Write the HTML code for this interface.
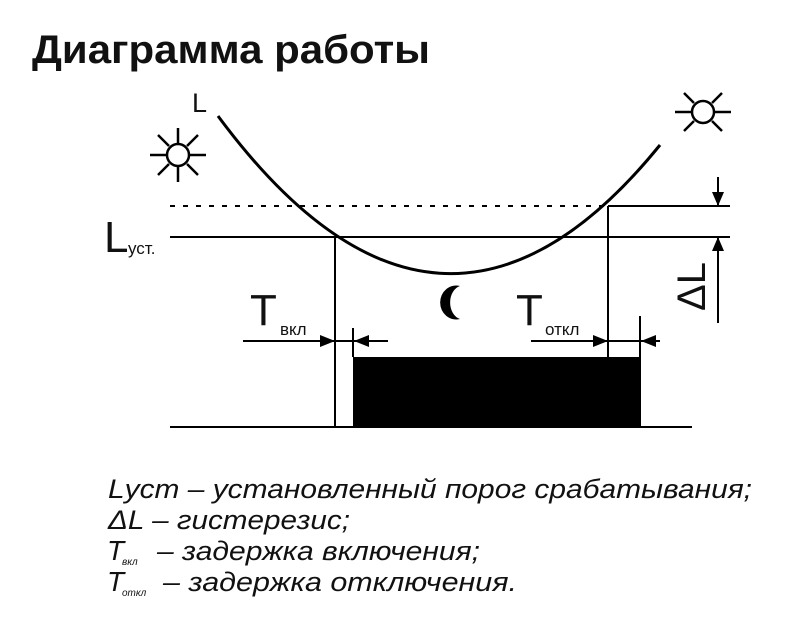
<!DOCTYPE html>
<html><head><meta charset="utf-8"><style>
html,body{margin:0;padding:0;background:#fff;}
svg{display:block;}
</style></head><body>
<svg width="807" height="642" viewBox="0 0 807 642" xmlns="http://www.w3.org/2000/svg">
<text x="32" y="63" font-family="Liberation Sans, sans-serif" font-weight="bold" font-size="40" textLength="398" lengthAdjust="spacingAndGlyphs" fill="#111">Диаграмма работы</text>

<text x="192" y="112" font-family="Liberation Sans, sans-serif" font-size="27" fill="#111">L</text>
<path d="M218,116 Q440,416 660,145" fill="none" stroke="#000" stroke-width="3"/>

<g stroke="#000" stroke-width="2.5" fill="none">
<circle cx="178" cy="155" r="11"/>
<line x1="150" y1="155" x2="166" y2="155"/><line x1="190" y1="155" x2="206" y2="155"/>
<line x1="178" y1="128" x2="178" y2="143"/><line x1="178" y1="167" x2="178" y2="182"/>
<line x1="158" y1="135" x2="169" y2="146"/><line x1="187" y1="164" x2="198" y2="175"/>
<line x1="198" y1="135" x2="187" y2="146"/><line x1="169" y1="164" x2="158" y2="175"/>
<circle cx="703" cy="112" r="11"/>
<line x1="675" y1="112" x2="691" y2="112"/><line x1="715" y1="112" x2="731" y2="112"/>
<line x1="684" y1="93" x2="694" y2="103"/><line x1="712" y1="121" x2="722" y2="131"/>
<line x1="722" y1="93" x2="712" y2="103"/><line x1="694" y1="121" x2="684" y2="131"/>
</g>

<line x1="170" y1="206" x2="608" y2="206" stroke="#000" stroke-width="2" stroke-dasharray="5,8"/>
<g stroke="#000" stroke-width="2">
<line x1="608" y1="206" x2="730" y2="206"/>
<line x1="170" y1="237" x2="730" y2="237"/>
<line x1="335" y1="237" x2="335" y2="427"/>
<line x1="608" y1="206" x2="608" y2="357"/>
<line x1="170" y1="427" x2="692" y2="427"/>
<line x1="353" y1="328" x2="353" y2="357"/>
<line x1="640" y1="316" x2="640" y2="357"/>
<line x1="243" y1="341" x2="335" y2="341"/>
<line x1="335" y1="341" x2="388" y2="341"/>
<line x1="531" y1="341" x2="660" y2="341"/>
<line x1="718" y1="177" x2="718" y2="206"/>
<line x1="718" y1="237" x2="718" y2="323"/>
</g>
<g fill="#000">
<polygon points="335,341 320,335 320,347"/>
<polygon points="354,341 369,335 369,347"/>
<polygon points="608,341 593,335 593,347"/>
<polygon points="641,341 656,335 656,347"/>
<polygon points="718,206 712,192 724,192"/>
<polygon points="718,237 712,251 724,251"/>
<rect x="353" y="357" width="288" height="70"/>
</g>
<path d="M460,286 A16,17 0 1 0 460,319 A13,17 0 0 1 460,286 Z" fill="#000"/>

<text x="104" y="252" font-family="Liberation Sans, sans-serif" font-size="44" fill="#111">L</text>
<text x="128" y="254" font-family="Liberation Sans, sans-serif" font-size="17" fill="#111">уст.</text>
<text x="250" y="325" font-family="Liberation Sans, sans-serif" font-size="44" fill="#111">T</text>
<text x="280" y="335" font-family="Liberation Sans, sans-serif" font-size="17" fill="#111">вкл</text>
<text x="516" y="325" font-family="Liberation Sans, sans-serif" font-size="44" fill="#111">T</text>
<text x="545" y="335" font-family="Liberation Sans, sans-serif" font-size="17" fill="#111">откл</text>
<text transform="translate(705,311) rotate(-90)" font-family="Liberation Sans, sans-serif" font-size="40" fill="#111">ΔL</text>

<g font-family="Liberation Sans, sans-serif" font-style="italic" font-size="27" fill="#111">
<text x="108" y="498" textLength="644" lengthAdjust="spacingAndGlyphs">Lусm – установленный порог срабатывания;</text>
<text x="108" y="529" textLength="242" lengthAdjust="spacingAndGlyphs">ΔL – гистерезис;</text>
<text x="107" y="560" font-size="28">T</text><text x="122" y="565" font-size="10">вкл</text>
<text x="157" y="560" textLength="323" lengthAdjust="spacingAndGlyphs">– задержка включения;</text>
<text x="107" y="591" font-size="28">T</text><text x="122" y="596" font-size="10">откл</text>
<text x="163" y="591" textLength="354" lengthAdjust="spacingAndGlyphs">– задержка отключения.</text>
</g>
</svg>
</body></html>
